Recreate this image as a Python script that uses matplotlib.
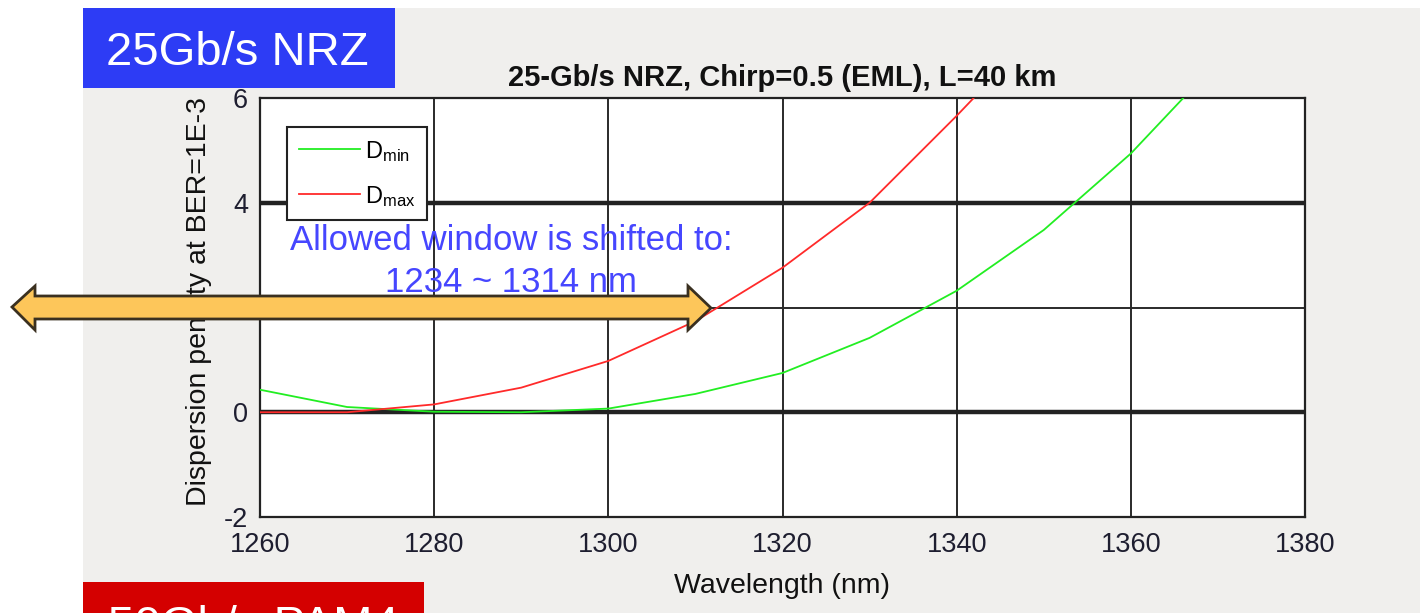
import matplotlib
matplotlib.use("Agg")
import matplotlib.pyplot as plt
from matplotlib.patches import Rectangle, Polygon

plt.rcParams['font.family'] = ['Liberation Sans', 'DejaVu Sans']
plt.rcParams['mathtext.fontset'] = 'custom'
plt.rcParams['mathtext.rm'] = 'Liberation Sans'
plt.rcParams['mathtext.it'] = 'Liberation Sans'
plt.rcParams['axes.unicode_minus'] = False

# ---- data ----
wavelength = [1260, 1270, 1280, 1290, 1300, 1310, 1320, 1330, 1340, 1350, 1360, 1370, 1380]
d_min = [0.43, 0.10, 0.01, 0.0, 0.07, 0.35, 0.75, 1.42, 2.32, 3.48, 4.94, 6.7, 8.7]
d_max = [0.0, 0.0, 0.15, 0.47, 0.98, 1.74, 2.76, 4.0, 5.66, 7.4, 9.4, 11.7, 14.2]
series_labels = [r'D$_{\mathrm{min}}$', r'D$_{\mathrm{max}}$']
x_ticks = [1260, 1280, 1300, 1320, 1340, 1360, 1380]
y_ticks = [-2, 0, 2, 4, 6]
title = "25-Gb/s NRZ, Chirp=0.5 (EML), L=40 km"
xlabel = "Wavelength (nm)"
ylabel = "Dispersion penalty at BER=1E-3"
note_lines = ["Allowed window is shifted to:", "1234 ~ 1314 nm"]
badge_top = "25Gb/s NRZ"
badge_bottom = "50Gb/s PAM4"

W, H = 1420, 613
fig = plt.figure(figsize=(W / 100, H / 100), dpi=100)
fig.patch.set_facecolor('white')

def fx(px):
    return px / W

def fy(py):
    return (H - py) / H

# slide background
fig.patches.append(Rectangle((fx(83), 0), 1 - fx(83), fy(8), transform=fig.transFigure,
                             facecolor='#f0efed', edgecolor='none', zorder=-5))
# badges
fig.patches.append(Rectangle((fx(83), fy(88)), fx(395) - fx(83), fy(8) - fy(88),
                             transform=fig.transFigure, facecolor='#2d3cf5',
                             edgecolor='none', zorder=2))
fig.text(fx(106), fy(65), badge_top, color='white', fontsize=34, va='baseline', ha='left', zorder=3)
fig.patches.append(Rectangle((fx(83), 0), fx(424) - fx(83), fy(582),
                             transform=fig.transFigure, facecolor='#d40000',
                             edgecolor='none', zorder=2))
fig.text(fx(108), fy(639), badge_bottom, color='white', fontsize=34, va='baseline', ha='left', zorder=3)

ax = fig.add_axes([fx(260), fy(517), fx(1305) - fx(260), fy(98) - fy(517)])
ax.set_facecolor('white')

ax.plot(wavelength, d_min, color='#22ee22', lw=1.3, label=series_labels[0], zorder=3)
ax.plot(wavelength, d_max, color='#ff2a2a', lw=1.3, label=series_labels[1], zorder=3)

ax.set_xlim(1260, 1380)
ax.set_ylim(-2, 6)
ax.set_xticks(x_ticks)
ax.set_yticks(y_ticks)
ax.grid(True, color='#2a2a2a', lw=1.4)
for val, gl in zip(y_ticks, ax.get_ygridlines()):
    if val in (0, 4):
        gl.set_linewidth(3.2)
        gl.set_color('#222222')
ax.set_axisbelow(True)
for s in ax.spines.values():
    s.set_color('#222222')
    s.set_linewidth(1.6)
ax.tick_params(length=0, labelsize=19.5, labelcolor='#1e1e30')
ax.tick_params(axis='x', pad=10.5)
ax.tick_params(axis='y', pad=8.5)

ax.set_title(title, fontsize=21, fontweight='bold', pad=9, color='#111111')
ax.set_xlabel(xlabel, fontsize=20.5, labelpad=11, color='#111111')
ax.set_ylabel(ylabel, fontsize=20.5, color='#111111')
ax.yaxis.set_label_coords(-0.046, 0.515)

leg = ax.legend(loc='upper left', bbox_to_anchor=(0.0258, 0.931), borderaxespad=0,
                fontsize=17, handlelength=2.6, handletextpad=0.2, labelspacing=0.85,
                fancybox=False, framealpha=1, edgecolor='#222222', borderpad=0.5)
leg.get_frame().set_linewidth(1.5)

fig.text(fx(511), fy(250), note_lines[0], color='#4646ff', fontsize=25, ha='center', va='baseline', zorder=6)
fig.text(fx(511), fy(292), note_lines[1], color='#4646ff', fontsize=25, ha='center', va='baseline', zorder=6)

# double-headed orange arrow
pts_px = [(12, 307), (35, 286), (35, 296), (688, 296), (688, 286), (711, 308),
          (688, 330), (688, 319), (35, 319), (35, 330)]
fig.patches.append(Polygon([(fx(x), fy(y)) for x, y in pts_px], closed=True,
                           transform=fig.transFigure, facecolor='#fdc65a',
                           edgecolor='#3a3020', lw=2, zorder=5))

fig.savefig('out.png', dpi=100)
